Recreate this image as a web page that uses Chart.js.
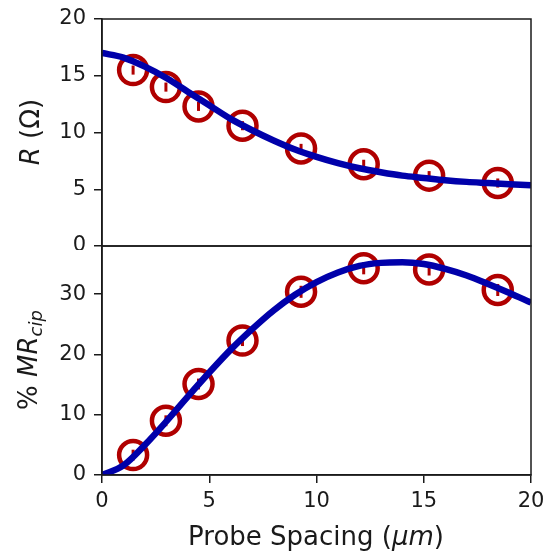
<!DOCTYPE html>
<html>
<head>
<meta charset="utf-8">
<script src="https://cdn.jsdelivr.net/npm/chart.js@4"></script>
<style>
  body { margin: 0; background: #fff; }
  #wrap { position: relative; width: 552px; height: 554px; }
  canvas { position: absolute; left: 0; }
  #top-chart { top: 0; }
  #bottom-chart { top: 240px; }
</style>
</head>
<body>
<div id="wrap">
  <canvas id="top-chart" width="552" height="250"></canvas>
  <canvas id="bottom-chart" width="552" height="314"></canvas>
</div>
<script>
// measured points
const probeX = [1.45, 2.98, 4.5, 6.55, 9.28, 12.2, 15.25, 18.45];
const resistance = [15.5, 14.0, 12.3, 10.6, 8.6, 7.2, 6.2, 5.55];
const resErr = [0.4, 0.4, 0.4, 0.4, 0.4, 0.4, 0.4, 0.4];
const mrCip = [3.3, 9.0, 15.1, 22.3, 30.4, 34.3, 34.1, 30.7];
const mrErr = [0.9, 0.9, 0.9, 0.9, 1.0, 1.0, 1.0, 1.0];

// fitted curves
const fitX = [0, 1, 2, 3, 4, 5, 6, 7, 8, 9, 10, 11, 12, 13, 14, 15, 16, 17, 18, 19, 20];
const resFit = [17.0, 16.6, 15.8, 14.8, 13.6, 12.4, 11.2, 10.2, 9.3, 8.5, 7.85, 7.3, 6.85, 6.5, 6.2, 6.0, 5.8, 5.65, 5.55, 5.45, 5.35];
const mrFit = [0, 1.6, 5.0, 8.9, 13.0, 17.0, 20.8, 24.2, 27.3, 29.9, 32.0, 33.6, 34.7, 35.2, 35.3, 35.0, 34.2, 33.1, 31.7, 30.2, 28.6];

// ticks
const xTicks = [0, 5, 10, 15, 20];
const resTicks = [0, 5, 10, 15, 20];
const mrTicks = [0, 10, 20, 30];

const FONT = "DejaVu Sans";
const RED = "#b00000";
const BLUE = "#0000aa";
const INK = "#1a1a1a";

function toPoints(xs, ys) {
    return xs.map((x, i) => ({x: x, y: ys[i]}));
}

function drawSegments(ctx, segs, cx, cy, rotate) {
    ctx.save();
    ctx.translate(cx, cy);
    if (rotate) ctx.rotate(-Math.PI / 2);
    ctx.fillStyle = INK;
    ctx.textBaseline = "middle";
    const fontOf = s => (s.italic ? "italic " : "") + (s.sub ? 18 : 26) + "px '" + FONT + "'";
    let total = 0;
    segs.forEach(s => { ctx.font = fontOf(s); total += ctx.measureText(s.t).width; });
    let pos = -total / 2;
    segs.forEach(s => {
        ctx.font = fontOf(s);
        ctx.fillText(s.t, pos, s.sub ? 7 : 0);
        pos += ctx.measureText(s.t).width;
    });
    ctx.restore();
}

const decorPlugin = {
    id: "decor",
    beforeDatasetsDraw(chart, args, opts) {
        const ctx = chart.ctx;
        const xs = chart.scales.x, ys = chart.scales.y;
        ctx.save();
        ctx.strokeStyle = RED;
        ctx.lineWidth = 3;
        opts.errX.forEach((x, i) => {
            const px = xs.getPixelForValue(x);
            ctx.beginPath();
            ctx.moveTo(px, ys.getPixelForValue(opts.errY[i] - opts.err[i]));
            ctx.lineTo(px, ys.getPixelForValue(opts.errY[i] + opts.err[i]));
            ctx.stroke();
        });
        ctx.restore();
    },
    afterDraw(chart, args, opts) {
        const ctx = chart.ctx;
        const a = chart.chartArea;
        ctx.save();
        ctx.strokeStyle = INK;
        ctx.lineWidth = 1.5;
        ctx.strokeRect(a.left, a.top, a.right - a.left, a.bottom - a.top);
        ctx.restore();
        if (opts.yTitle) drawSegments(ctx, opts.yTitle.segs, opts.yTitle.x, opts.yTitle.y, true);
        if (opts.xTitle) drawSegments(ctx, opts.xTitle.segs, opts.xTitle.x, opts.xTitle.y, false);
    }
};

function yAxis(min, max, ticks) {
    return {
        min: min, max: max,
        afterBuildTicks: scale => { scale.ticks = ticks.map(v => ({value: v})); },
        afterFit: scale => {
            scale.width = 102;
            scale.paddingTop = 0;
            scale.paddingBottom = 0;
        },
        grid: {drawOnChartArea: false, drawTicks: true, tickLength: 8, color: INK, lineWidth: 1.5},
        border: {display: true, color: INK, width: 1.5},
        ticks: {color: INK, padding: 8, font: {family: FONT, size: 21}}
    };
}

function datasets(ys, fit) {
    return [{
        data: toPoints(fitX, fit),
        showLine: true,
        borderColor: BLUE,
        borderWidth: 6.5,
        pointRadius: 0,
        cubicInterpolationMode: "monotone",
        order: 0
    }, {
        data: toPoints(probeX, ys),
        pointStyle: "circle",
        pointRadius: 14,
        pointBorderWidth: 4.5,
        pointBorderColor: RED,
        pointBackgroundColor: "rgba(0,0,0,0)",
        showLine: false,
        order: 1
    }];
}

const common = {
    responsive: false,
    animation: false,
    events: [],
    plugins: {legend: {display: false}, tooltip: {enabled: false}}
};

new Chart(document.getElementById("top-chart").getContext("2d"), {
    type: "scatter",
    data: {datasets: datasets(resistance, resFit)},
    options: {
        ...common,
        layout: {autoPadding: false, padding: {top: 19, right: 21, bottom: 4, left: 0}},
        scales: {
            x: {min: 0, max: 20, display: false},
            y: yAxis(0, 20, resTicks)
        },
        plugins: {
            ...common.plugins,
            decor: {
                errX: probeX, errY: resistance, err: resErr,
                yTitle: {x: 32, y: 132, segs: [{t: "R", italic: true}, {t: " (Ω)"}]}
            }
        }
    },
    plugins: [decorPlugin]
});

new Chart(document.getElementById("bottom-chart").getContext("2d"), {
    type: "scatter",
    data: {datasets: datasets(mrCip, mrFit)},
    options: {
        ...common,
        layout: {autoPadding: false, padding: {top: 6, right: 21, bottom: 0, left: 0}},
        scales: {
            x: {
                min: 0, max: 20,
                afterBuildTicks: scale => { scale.ticks = xTicks.map(v => ({value: v})); },
                afterFit: scale => {
                    scale.height = 79;
                    scale.paddingLeft = 0;
                    scale.paddingRight = 0;
                },
                grid: {drawOnChartArea: false, drawTicks: true, tickLength: 8, color: INK, lineWidth: 1.5},
                border: {display: true, color: INK, width: 1.5},
                ticks: {color: INK, padding: 6, maxRotation: 0, font: {family: FONT, size: 21}}
            },
            y: yAxis(0, 38, mrTicks)
        },
        plugins: {
            ...common.plugins,
            decor: {
                errX: probeX, errY: mrCip, err: mrErr,
                yTitle: {x: 30, y: 120, segs: [{t: "% "}, {t: "MR", italic: true}, {t: "cip", italic: true, sub: true}]},
                xTitle: {x: 316, y: 298, segs: [{t: "Probe Spacing ("}, {t: "μm", italic: true}, {t: ")"}]}
            }
        }
    },
    plugins: [decorPlugin]
});
</script>
</body>
</html>
